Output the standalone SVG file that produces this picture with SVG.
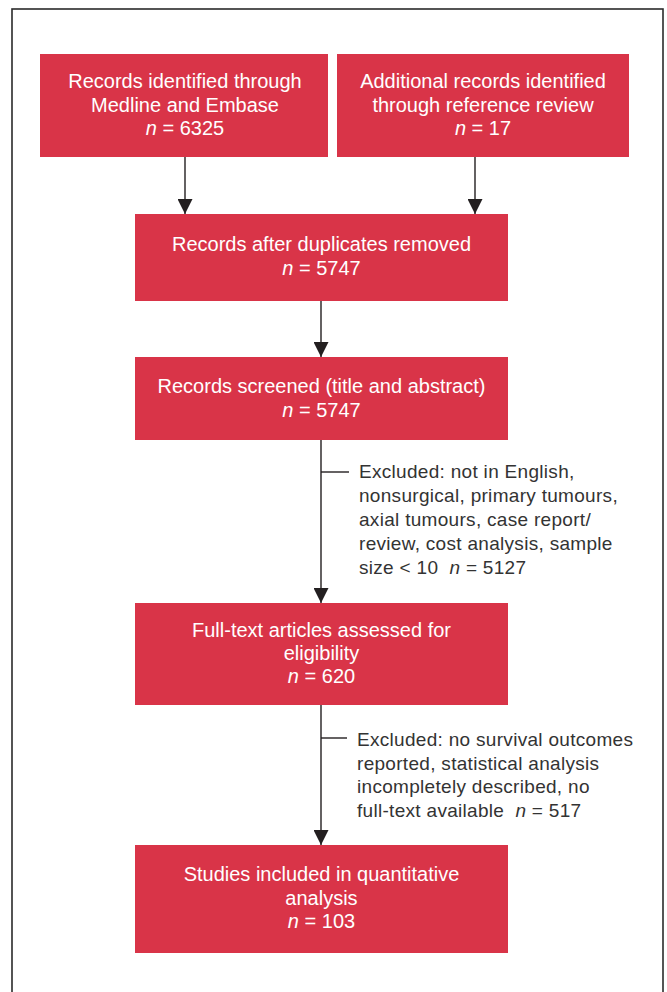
<svg xmlns="http://www.w3.org/2000/svg" width="667" height="992" viewBox="0 0 667 992">
  <defs>
    <marker id="arr" markerWidth="15" markerHeight="15" refX="15" refY="7.5" orient="auto" markerUnits="userSpaceOnUse">
      <path d="M0,0 L15,7.5 L0,15 Z" fill="#231f20"/>
    </marker>
    <style>
      .box { fill: #d93448; }
      .bt { font-family: "Liberation Sans", Arial, sans-serif; font-size: 20px; fill: #ffffff; text-anchor: middle; }
      .et { font-family: "Liberation Sans", Arial, sans-serif; font-size: 19px; fill: #333333; letter-spacing: 0.3px; }
      .it { font-style: italic; }
      .ln { stroke: #231f20; stroke-width: 1.4; fill: none; }
    </style>
  </defs>
  <rect x="0" y="0" width="667" height="992" fill="#ffffff"/>
  <rect x="12" y="9" width="651" height="1000" fill="none" stroke="#2b2b2b" stroke-width="1.6"/>

  <g id="node-medline">
    <rect class="box" x="40" y="54" width="288" height="103"/>
    <text class="bt" x="185" y="88">Records identified through</text>
    <text class="bt" x="185" y="112">Medline and Embase</text>
    <text class="bt" x="185" y="135"><tspan class="it">n</tspan> = 6325</text>
  </g>
  <g id="node-reference">
    <rect class="box" x="337" y="54" width="292" height="103"/>
    <text class="bt" x="483" y="88">Additional records identified</text>
    <text class="bt" x="483" y="112">through reference review</text>
    <text class="bt" x="483" y="135"><tspan class="it">n</tspan> = 17</text>
  </g>
  <g id="node-duplicates">
    <rect class="box" x="135" y="214" width="373" height="87"/>
    <text class="bt" x="321.5" y="251">Records after duplicates removed</text>
    <text class="bt" x="321.5" y="275"><tspan class="it">n</tspan> = 5747</text>
  </g>
  <g id="node-screened">
    <rect class="box" x="135" y="357" width="373" height="83"/>
    <text class="bt" x="321.5" y="393">Records screened (title and abstract)</text>
    <text class="bt" x="321.5" y="417"><tspan class="it">n</tspan> = 5747</text>
  </g>
  <g id="node-fulltext">
    <rect class="box" x="135" y="603" width="373" height="102"/>
    <text class="bt" x="321.5" y="637">Full-text articles assessed for</text>
    <text class="bt" x="321.5" y="660">eligibility</text>
    <text class="bt" x="321.5" y="683"><tspan class="it">n</tspan> = 620</text>
  </g>
  <g id="node-included">
    <rect class="box" x="135" y="845" width="373" height="108"/>
    <text class="bt" x="321.5" y="881">Studies included in quantitative</text>
    <text class="bt" x="321.5" y="904.5">analysis</text>
    <text class="bt" x="321.5" y="928"><tspan class="it">n</tspan> = 103</text>
  </g>

  <g id="excluded-1">
    <text class="et" x="359" y="478">Excluded: not in English,</text>
    <text class="et" x="359" y="502">nonsurgical, primary tumours,</text>
    <text class="et" x="359" y="526">axial tumours, case report/</text>
    <text class="et" x="359" y="550">review, cost analysis, sample</text>
    <text class="et" x="359" y="574" xml:space="preserve">size &lt; 10  <tspan class="it">n</tspan> = 5127</text>
  </g>
  <g id="excluded-2">
    <text class="et" x="357" y="746">Excluded: no survival outcomes</text>
    <text class="et" x="357" y="769.5">reported, statistical analysis</text>
    <text class="et" x="357" y="793">incompletely described, no</text>
    <text class="et" x="357" y="816.5" xml:space="preserve">full-text available  <tspan class="it">n</tspan> = 517</text>
  </g>

  <g id="connectors">
    <line class="ln" x1="185" y1="157" x2="185" y2="214" marker-end="url(#arr)"/>
    <line class="ln" x1="475" y1="157" x2="475" y2="214" marker-end="url(#arr)"/>
    <line class="ln" x1="321" y1="301" x2="321" y2="357" marker-end="url(#arr)"/>
    <line class="ln" x1="321" y1="440" x2="321" y2="603" marker-end="url(#arr)"/>
    <line class="ln" x1="321" y1="705" x2="321" y2="845" marker-end="url(#arr)"/>
    <line class="ln" x1="321" y1="472" x2="349" y2="472"/>
    <line class="ln" x1="321" y1="738" x2="347" y2="738"/>
  </g>
</svg>
